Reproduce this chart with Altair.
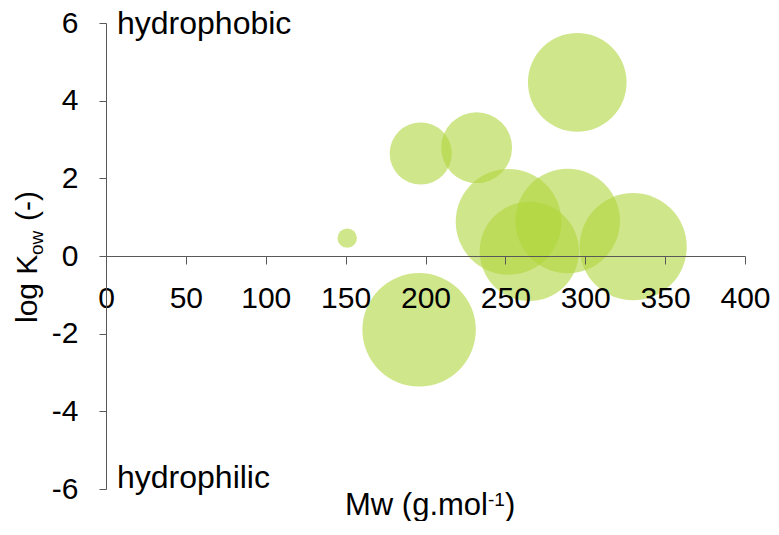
import altair as alt
import pandas as pd

# Bubble data
mw = [151, 197, 232, 295, 252, 289, 265, 330, 196]
logkow = [0.46, 2.64, 2.79, 4.47, 0.88, 0.90, 0.12, 0.24, -1.90]
weight = [1.2, 12.3, 16.0, 31.0, 35.6, 34.8, 31.4, 36.6, 41.0]

x_ticks = [0, 50, 100, 150, 200, 250, 300, 350, 400]
y_ticks = [-6, -4, -2, 0, 2, 4, 6]

annot_text = ["hydrophobic", "hydrophilic"]
annot_y = [6.0, -5.68]

FONT = "Liberation Sans"
W, H = 639, 466

df = pd.DataFrame({"mw": mw, "logkow": logkow, "weight": weight})
ann = pd.DataFrame({"text": annot_text, "x": [0, 0], "y": annot_y})
one = pd.DataFrame({"k": [0]})

xscale = alt.Scale(domain=[0, 400], nice=False, zero=False)
yscale = alt.Scale(domain=[-6, 6], nice=False, zero=False)

bubbles = alt.Chart(df).mark_circle(
    color="#afd539", opacity=0.59
).encode(
    x=alt.X("mw:Q", scale=xscale, axis=alt.Axis(
        values=x_ticks, title=None, offset=-H / 2, grid=False,
        domainColor="#595959", tickColor="#595959", tickSize=8,
        labelFont=FONT, labelFontSize=30, labelColor="black",
        labelPadding=19, labelExpr="'' + datum.value", labelFlush=False,
        labelOverlap=False, zindex=1)),
    y=alt.Y("logkow:Q", scale=yscale, axis=alt.Axis(
        values=y_ticks, title=None, grid=False,
        domainColor="#595959", tickColor="#595959", tickSize=7,
        labelFont=FONT, labelFontSize=30, labelColor="black",
        labelPadding=21, labelExpr="'' + datum.value", labelFlush=False,
        labelOverlap=False, zindex=1)),
    size=alt.Size("weight:Q", scale=alt.Scale(domain=[0, 41], range=[0, 3.14159 * 64 * 64]), legend=None),
)

annots = alt.Chart(ann).mark_text(
    font=FONT, fontSize=32, align="left", baseline="middle", dx=11, dy=1, color="black"
).encode(
    x=alt.X("x:Q", scale=xscale),
    y=alt.Y("y:Q", scale=yscale),
    text="text:N",
)

def txt(s, x, y, size, angle=0):
    kw = dict(font=FONT, fontSize=size, align="left", baseline="alphabetic", color="black", text=s)
    if angle:
        kw["angle"] = angle
    return alt.Chart(one).mark_text(**kw).encode(x=alt.value(x), y=alt.value(y))

xt1 = txt("Mw (g.mol", 239, 492, 31)
xt2 = txt("-1", 382, 483, 19)
xt3 = txt(")", 399, 492, 31)

yt1 = txt("log K", -69, 300, 30, 270)
yt2 = txt("ow", -63, 232, 19, 270)
yt3 = txt("(-)", -69, 198, 30, 270)

chart = alt.layer(bubbles, annots, xt1, xt2, xt3, yt1, yt2, yt3).properties(
    width=W, height=H,
    autosize=alt.AutoSizeParams(type="none"),
    padding={"left": 98, "top": 15, "right": 26, "bottom": 32},
).configure_view(stroke=None)

chart.save("out.html", embed_options={"renderer": "svg", "actions": False})
